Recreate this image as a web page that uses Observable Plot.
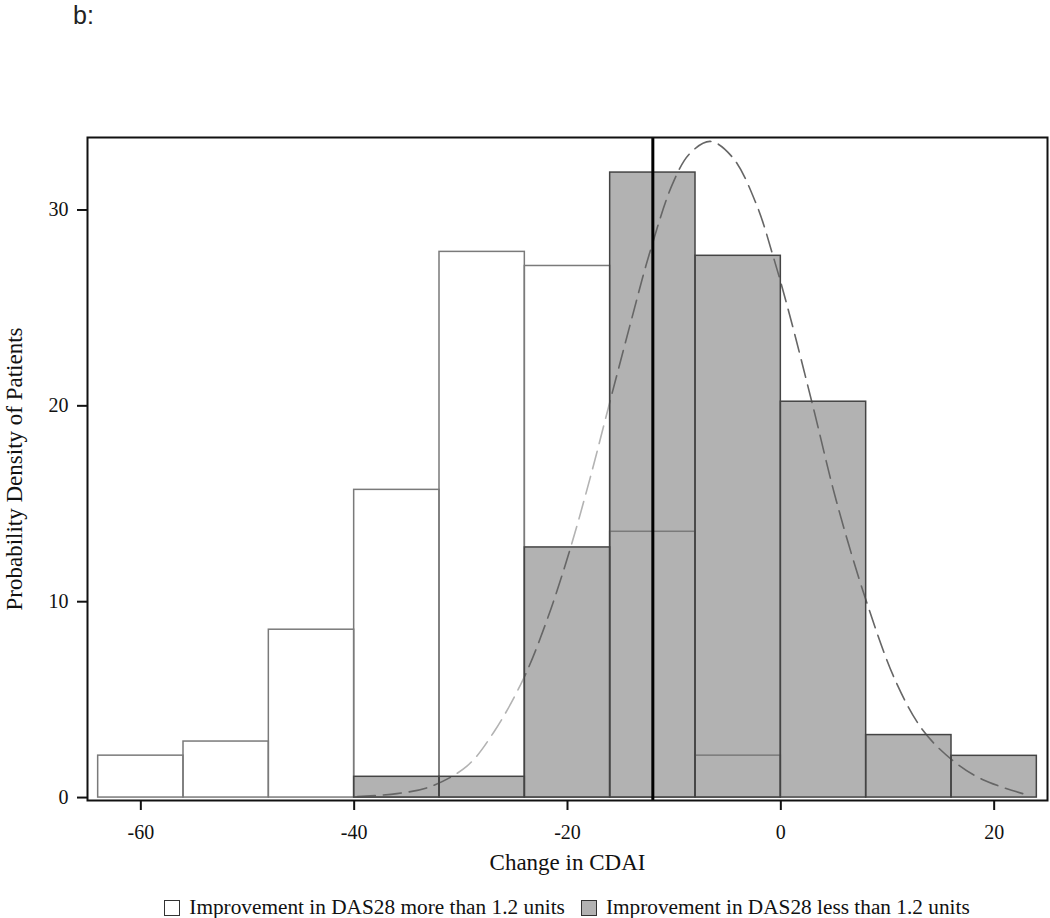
<!DOCTYPE html>
<html>
<head>
<meta charset="utf-8">
<script src="https://cdn.jsdelivr.net/npm/d3@7"></script>
<script src="https://cdn.jsdelivr.net/npm/@observablehq/plot@0.6"></script>
<style>
  body { margin: 0; background: #fff; }
  #wrap { position: relative; width: 1050px; height: 918px; overflow: hidden; }
  #tag { position: absolute; left: 73px; top: 1px; font: 25px/28px "Liberation Sans", Arial, sans-serif; color: #222; }
  #chart { position: absolute; left: 0; top: 0; }
  #legend { position: absolute; left: 87px; width: 960px; top: 895px; display: flex; justify-content: center; align-items: center;
            font: 21.3px "Liberation Serif", "Times New Roman", serif; color: #111; white-space: nowrap; }
  .item { display: flex; align-items: center; margin: 0 8px; }
  .sw { width: 14px; height: 14px; border: 1px solid #333; margin-right: 9px; box-sizing: content-box; }
</style>
</head>
<body>
<div id="wrap">
  <div id="chart"></div>
  <div id="tag">b:</div>
  <div id="legend"></div>
</div>
<script>
// ---- data ----
const binEdges = [-64, -56, -48, -40, -32, -24, -16, -8, 0, 8, 16, 24];
const moreThan12 = [2.14, 2.86, 8.57, 15.71, 27.86, 27.14, 13.57, 2.14, 0, 0, 0];   // improvement in DAS28 more than 1.2 units
const lessThan12 = [0, 0, 0, 1.06, 1.06, 12.77, 31.91, 27.66, 20.21, 3.19, 2.13];  // improvement in DAS28 less than 1.2 units
const curveX = [-39.7, -36.0, -32.9, -29.4, -26.9, -24.1, -21.9, -19.8, -17.9, -16.0, -14.1, -12.3, -10.1, -8.5, -6.6, -4.5, -2.3, -0.7, 0.8, 3.0, 5.2, 8.0, 10.8, 13.3, 16.1, 18.9, 23.0];
const curveY = [0.05, 0.2, 0.55, 1.62, 3.35, 6.1, 9.1, 12.6, 16.27, 20.26, 24.2, 27.8, 31.4, 32.9, 33.5, 32.67, 30.3, 27.6, 24.69, 20.0, 15.15, 10.05, 5.9, 3.45, 1.9, 0.92, 0.15];
const refLine = [-12];
const xTicks = [-60, -40, -20, 0, 20];
const yTicks = [0, 10, 20, 30];
const seriesNames = ["Improvement in DAS28 more than 1.2 units", "Improvement in DAS28 less than 1.2 units"];
const seriesFills = ["#ffffff", "#b2b2b2"];

const bins = binEdges.slice(0, -1).map((e, i) => ({ x1: e, x2: binEdges[i + 1], more: moreThan12[i], less: lessThan12[i] }));
const curve = curveX.map((x, i) => ({ x, y: curveY[i] }));

const serif = '"Liberation Serif", "Times New Roman", serif';

const chart = Plot.plot({
  width: 1050,
  height: 890,
  marginLeft: 87,
  marginRight: 3,
  marginTop: 137,
  marginBottom: 90,
  style: { background: "white", color: "#111" },
  x: { domain: [-65, 25] },
  y: { domain: [-0.15, 33.7] },
  marks: [
    Plot.rect(bins.filter(d => d.less > 0), { x1: "x1", x2: "x2", y1: 0, y2: "less", fill: seriesFills[1] }),
    Plot.line(curve, { x: "x", y: "y", stroke: "#666", strokeWidth: 1.6, strokeDasharray: "18,8", curve: "catmull-rom" }),
    Plot.rect(bins.filter(d => d.more > d.less), { x1: "x1", x2: "x2", y1: "less", y2: "more", fill: "white", fillOpacity: 0.5 }),
    Plot.rect(bins.filter(d => d.more > 0), { x1: "x1", x2: "x2", y1: 0, y2: "more", fill: "none", stroke: "#7a7a7a", strokeWidth: 1.5 }),
    Plot.rect(bins.filter(d => d.less > 0), { x1: "x1", x2: "x2", y1: 0, y2: "less", fill: "none", stroke: "#444", strokeWidth: 1.5 }),
    Plot.ruleX(refLine, { stroke: "black", strokeWidth: 3 }),
    Plot.frame({ stroke: "#111", strokeWidth: 2 }),
    Plot.axisX({ ticks: xTicks, tickSize: 10, tickPadding: 14, tickFormat: d => String(d), fontSize: 20, fontFamily: serif, strokeWidth: 2, label: null }),
    Plot.axisY({ ticks: yTicks, tickSize: 10, tickPadding: 9, tickFormat: d => String(d), fontSize: 20, fontFamily: serif, strokeWidth: 2, label: null }),
    Plot.text(["Change in CDAI"], { frameAnchor: "bottom", dy: 69, text: d => d, fontSize: 23, fontFamily: serif, textAnchor: "middle" }),
    Plot.text(["Probability Density of Patients"], { frameAnchor: "left", dx: -73, rotate: -90, text: d => d, fontSize: 23, fontFamily: serif, textAnchor: "middle" })
  ]
});
document.getElementById("chart").appendChild(chart);

const legend = document.getElementById("legend");
seriesNames.forEach((name, i) => {
  const item = document.createElement("div");
  item.className = "item";
  const sw = document.createElement("span");
  sw.className = "sw";
  sw.style.background = seriesFills[i];
  const lab = document.createElement("span");
  lab.textContent = name;
  item.appendChild(sw);
  item.appendChild(lab);
  legend.appendChild(item);
});
</script>
</body>
</html>
